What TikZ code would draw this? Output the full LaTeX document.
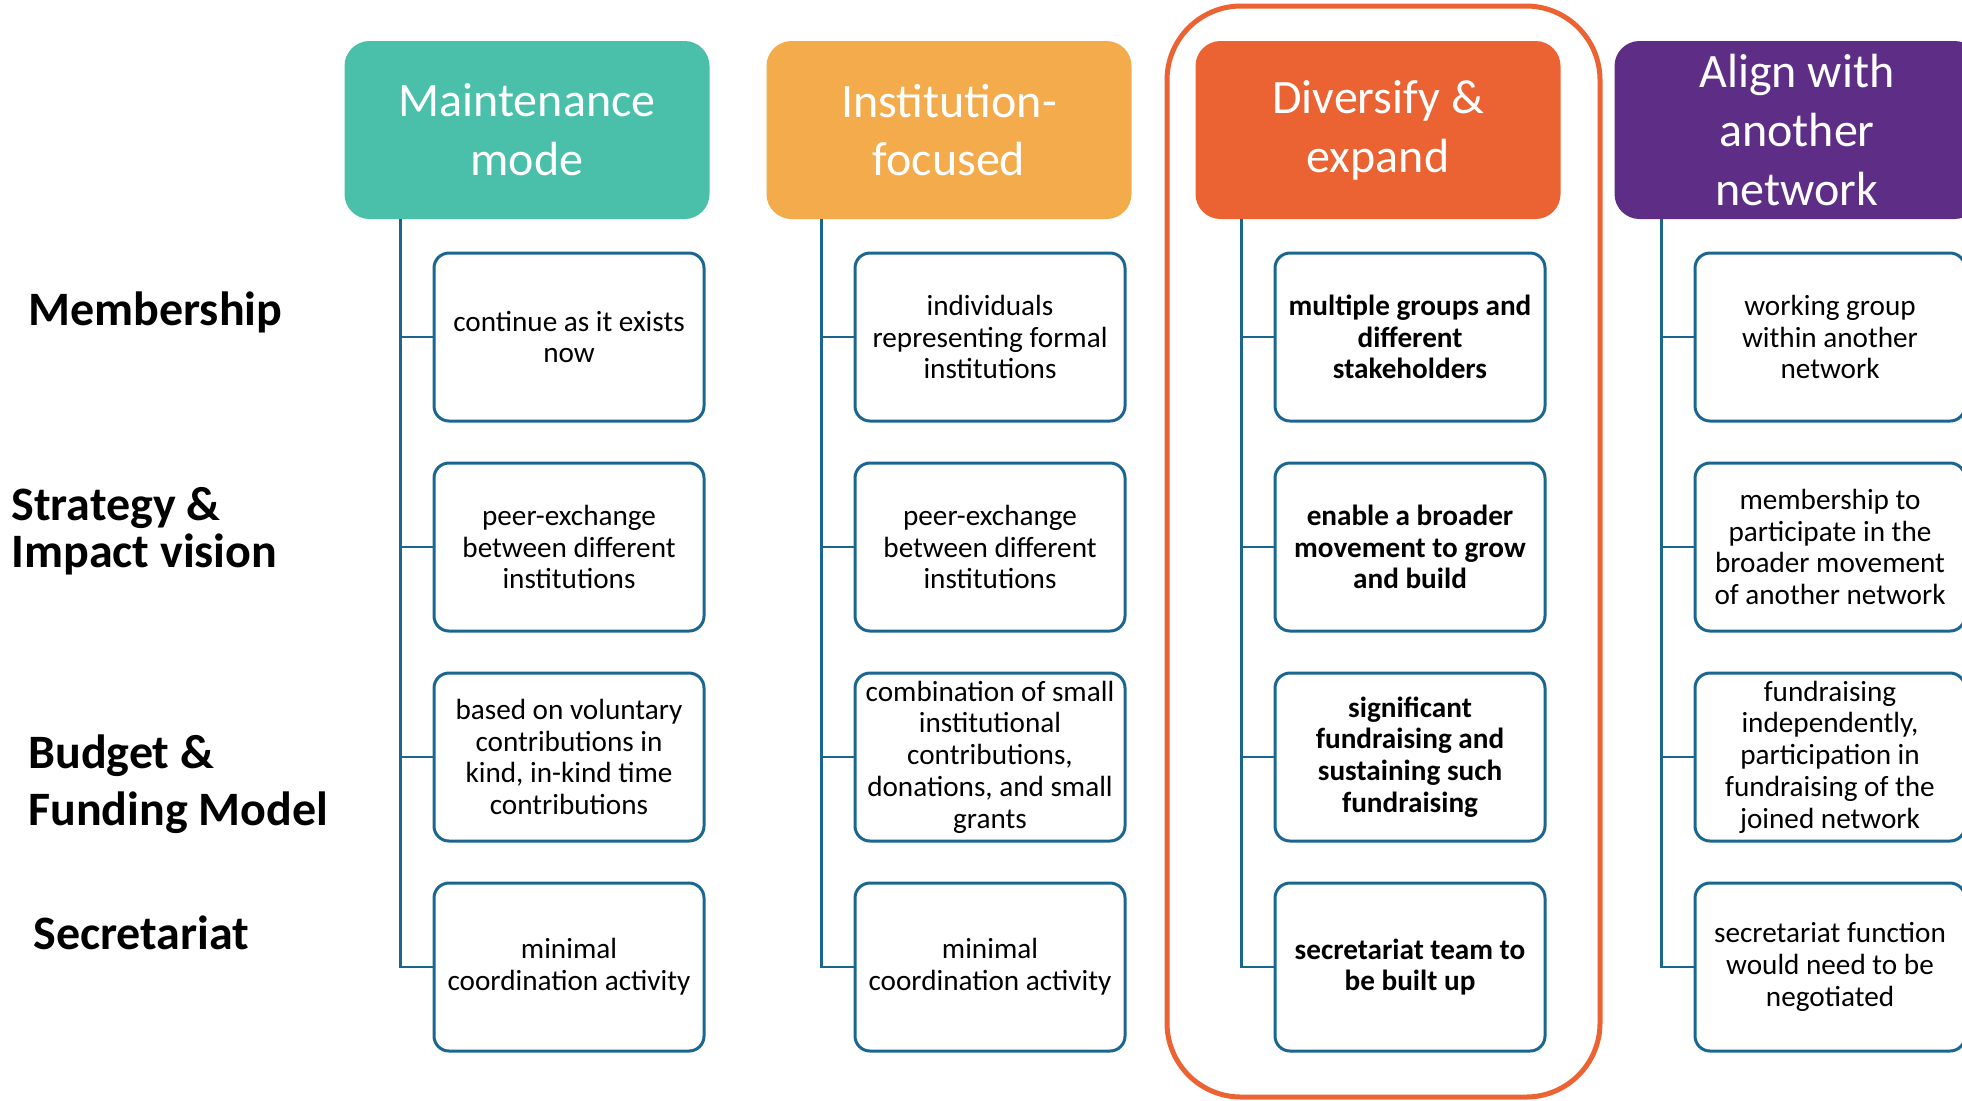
\documentclass[tikz,border=0pt]{standalone}
\usepackage{fontspec}
\setmainfont{Carlito}
\usepackage{xcolor}
\usepackage{tikz}
\definecolor{mainteal}{HTML}{4ABFAA}
\definecolor{instamber}{HTML}{F4AB4C}
\definecolor{divorange}{HTML}{EC6333}
\definecolor{alignpurple}{HTML}{5E2D86}
\definecolor{boxblue}{HTML}{1B6691}
\tikzset{
  head/.style={rounded corners=12.5pt, minimum width=182.5pt, minimum height=89pt, inner sep=0pt,
    text=white, align=center, font=\fontsize{24}{29.4}\selectfont},
  item/.style={draw=boxblue, line width=1.5pt, rounded corners=7.5pt, fill=white,
    minimum width=135pt, minimum height=84pt, inner sep=0pt, align=center,
    font=\fontsize{14.6}{15.9}\selectfont},
  bolditem/.style={item, font=\fontsize{14.6}{15.9}\selectfont\bfseries},
  conn/.style={draw=boxblue, line width=1.25pt},
  rowlabel/.style={anchor=west, align=left, inner sep=0pt}
}

\begin{document}
\begin{tikzpicture}[x=0.5pt, y=-0.5pt]
    \useasboundingbox (0,0) rectangle (1962,1100);
    \clip (0,0) rectangle (1962,1100);

    % Chosen option frame
    \draw[divorange, line width=2.5pt, rounded corners=37pt] (1167,6) rectangle (1600,1097);

    % Row labels
    \node[rowlabel, font=\fontsize{24}{28}\bfseries\selectfont] (membership) at (28,312) {Membership};
    \node[rowlabel, font=\fontsize{24}{23.3}\bfseries\selectfont] (strategy) at (11,531) {Strategy \&\\Impact vision};
    \node[rowlabel, font=\fontsize{24}{28.4}\bfseries\selectfont] (budget) at (28,784) {Budget \&\\Funding Model};
    \node[rowlabel, font=\fontsize{24}{28}\bfseries\selectfont] (secretariat) at (33,933) {Secretariat};

    % Option headers
    \node[head, fill=mainteal] (h1) at (527,130) {Maintenance\\mode};
    \node[head, fill=instamber] (h2) at (949,130) {Institution-\\focused};
    \node[head, fill=divorange] (h3) at (1378,130) {Diversify \&\\expand};
    \node[head, fill=alignpurple] (h4) at (1797,130) {Align with\\another\\network};

    % Maintenance mode
    \node[item] (c11) at (569,337) {continue as it exists\\now};
    \node[item] (c12) at (569,547) {peer-exchange\\between different\\institutions};
    \node[item] (c13) at (569,757) {based on voluntary\\contributions in\\kind, in-kind time\\contributions};
    \node[item] (c14) at (569,967) {minimal\\coordination activity};

    % Institution-focused
    \node[item] (c21) at (990,337) {individuals\\representing formal\\institutions};
    \node[item] (c22) at (990,547) {peer-exchange\\between different\\institutions};
    \node[item] (c23) at (990,757) {combination of small\\institutional\\contributions,\\donations, and small\\grants};
    \node[item] (c24) at (990,967) {minimal\\coordination activity};

    % Diversify & expand
    \node[bolditem] (c31) at (1410,337) {multiple groups and\\different\\stakeholders};
    \node[bolditem] (c32) at (1410,547) {enable a broader\\movement to grow\\and build};
    \node[bolditem] (c33) at (1410,757) {significant\\fundraising and\\sustaining such\\fundraising};
    \node[bolditem] (c34) at (1410,967) {secretariat team to\\be built up};

    % Align with another network
    \node[item] (c41) at (1830,337) {working group\\within another\\network};
    \node[item] (c42) at (1830,547) {membership to\\participate in the\\broader movement\\of another network};
    \node[item] (c43) at (1830,757) {fundraising\\independently,\\participation in\\fundraising of the\\joined network};
    \node[item] (c44) at (1830,967) {secretariat function\\would need to be\\negotiated};

    % Connectors
    \foreach \c in {1,2,3,4} {
        \draw[conn] (h\c.south -| c\c1.west) ++(-32,0) |- (c\c4.west);
        \foreach \r in {1,2,3}
            \draw[conn] (c\c\r.west) -- ++(-32,0);
    }
\end{tikzpicture}
\end{document}
